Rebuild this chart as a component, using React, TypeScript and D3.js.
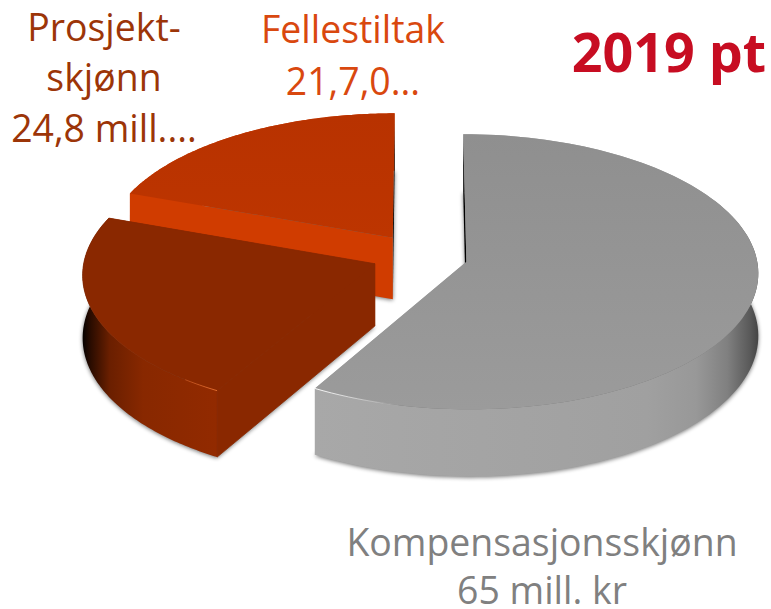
import React from "react";
import * as d3 from "d3";

const categories = ["Kompensasjonsskjønn", "Prosjektskjønn", "Fellestiltak"];
const values = [65, 24.8, 21.7];
const topColors = [["#8f8f8f", "#9b9b9b"], ["#8a2800", "#8a2800"], ["#b83200", "#bd3500"]];
const startFaceColors = ["#000000", "#8a2800", "#d03c00"];
const endFaceColors = ["#a3a3a3", "#8a2800", "#000000"];
const wallStops: [number, string][][] = [
  [[0, "#a8a8a8"], [0.75, "#a0a0a0"], [0.86, "#989898"], [0.93, "#808080"], [0.98, "#5a5a5a"], [1, "#444444"]],
  [[0, "#050100"], [0.06, "#2a0c00"], [0.2, "#6a1f00"], [0.45, "#882800"], [1, "#922a00"]],
  [[0, "#d03c00"], [1, "#d03c00"]],
];
const labels = [
  { lines: ["Kompensasjonsskjønn", "65 mill. kr"], x: 542, y: [556, 604], color: "#808080" },
  { lines: ["Prosjekt-", "skjønn", "24,8 mill...."], x: 104, y: [41, 91, 142], color: "#9c3508" },
  { lines: ["Fellestiltak", "21,7,0..."], x: 353, y: [43, 95], color: "#d9480f" },
];
const title = "2019 pt";

const W = 771, H = 609;
const cx = 420, cy = 256, R = 290, A = 136, K = 0.0724, EXPLODE = 0.165, DEPTH = 62;

const pie = d3.pie<number>().sort(null).startAngle(0).endAngle(2 * Math.PI);
const arcs = pie(values);

type P = [number, number];
function proj(U: number, V: number, down: boolean): P {
  const d = 1 + K * V;
  return [cx + (R * U) / d, cy - (A * V) / d + (down ? DEPTH / d : 0)];
}
function polar(a: number, r: number, mid: number, down: boolean): P {
  return proj(r * Math.sin(a) + EXPLODE * Math.sin(mid), r * Math.cos(a) + EXPLODE * Math.cos(mid), down);
}
const toPath = (pts: P[]) => d3.line()(pts)! + "Z";

function build(a0: number, a1: number) {
  const mid = (a0 + a1) / 2;
  const steps = d3.range(0, 121).map((i) => a0 + ((a1 - a0) * i) / 120);
  const topArc = steps.map((a) => polar(a, 1, mid, false));
  const botArc = steps.map((a) => polar(a, 1, mid, true));
  const apexT = polar(0, 0, mid, false);
  const apexB = polar(0, 0, mid, true);
  return { mid, steps, topArc, botArc, apexT, apexB };
}

export default function App() {
  const slices = arcs.map((d) => build(d.startAngle, d.endAngle));
  const order = [2, 1, 0];
  return (
    <svg width={W} height={H} viewBox={`0 0 ${W} ${H}`} style={{ position: "absolute", left: 0, top: 0, background: "#fff" }}>
      <defs>
        <filter id="soft" x="-10%" y="-10%" width="120%" height="120%">
          <feGaussianBlur stdDeviation="2" />
        </filter>
        <filter id="rim" x="-10%" y="-10%" width="120%" height="120%">
          <feGaussianBlur stdDeviation="0.4" />
        </filter>
        {slices.map((s, i) => {
          const xs = s.botArc.map((p) => p[0]);
          const [x0, x1] = d3.extent(xs) as [number, number];
          return (
            <linearGradient key={i} id={`wall${i}`} gradientUnits="userSpaceOnUse" x1={x0} x2={x1} y1={0} y2={0}>
              {wallStops[i].map(([o, c], j) => (
                <stop key={j} offset={o} stopColor={c} />
              ))}
            </linearGradient>
          );
        })}
        {slices.map((s, i) => (
          <linearGradient key={i} id={`top${i}`} x1="0" x2="0" y1="0" y2="1">
            <stop offset="0" stopColor={topColors[i][0]} />
            <stop offset="1" stopColor={topColors[i][1]} />
          </linearGradient>
        ))}
        <linearGradient id="hlGray" gradientUnits="userSpaceOnUse" x1={315} x2={400} y1={0} y2={0}>
          <stop offset="0" stopColor="#ffffff" stopOpacity="0.95" />
          <stop offset="1" stopColor="#ffffff" stopOpacity="0" />
        </linearGradient>
        <linearGradient id="hlRed" gradientUnits="userSpaceOnUse" x1={150} x2={214} y1={0} y2={0}>
          <stop offset="0" stopColor="#e05a20" stopOpacity="0" />
          <stop offset="1" stopColor="#e87030" stopOpacity="0.9" />
        </linearGradient>
      </defs>

      {order.map((i) => {
        const s = slices[i];
        const botPoly: P[] = [s.apexB, ...s.botArc];
        const n = s.topArc.length - 1;
        const wall: P[] = [...s.topArc, ...[...s.botArc].reverse()];
        const faceStart: P[] = [s.apexT, s.topArc[0], s.botArc[0], s.apexB];
        const faceEnd: P[] = [s.apexT, s.topArc[n], s.botArc[n], s.apexB];
        const top: P[] = [s.apexT, ...s.topArc];
        const rimPts = i === 0 ? s.topArc.slice(n - 22) : i === 1 ? s.topArc.slice(0, 12) : [];
        const faceEndEl = <path d={toPath(faceEnd)} fill={endFaceColors[i]} />;
        return (
          <g key={categories[i]}>
            <path d={toPath(botPoly)} fill="#000" opacity={0.55} filter="url(#soft)" transform="translate(0,1)" />
            {i === 0 && faceEndEl}
            <path d={toPath(wall)} fill={`url(#wall${i})`} />
            {i !== 0 && faceEndEl}
            <path
              d={toPath(faceStart)}
              fill={startFaceColors[i]}
              stroke={i === 1 ? startFaceColors[i] : "none"}
              strokeWidth={0.8}
            />
            <path
              d={toPath(top)}
              fill={`url(#top${i})`}
              stroke={i === 1 ? topColors[i][0] : "none"}
              strokeWidth={0.8}
            />
            {rimPts.length > 0 && (
              <path
                d={d3.line()(rimPts)!}
                fill="none"
                stroke={i === 0 ? "url(#hlGray)" : "url(#hlRed)"}
                strokeWidth={1}
                filter="url(#rim)"
              />
            )}
          </g>
        );
      })}

      {labels.map((l) =>
        l.lines.map((t, j) => (
          <text key={t} x={l.x} y={l.y[j]} textAnchor="middle" fontFamily="'Open Sans'" fontSize={37.4} fill={l.color}>
            {t}
          </text>
        ))
      )}
      <text x={669} y={72} textAnchor="middle" fontFamily="'Open Sans'" fontWeight={700} fontSize={53.8} fill="#c70d22">
        {title}
      </text>
    </svg>
  );
}
